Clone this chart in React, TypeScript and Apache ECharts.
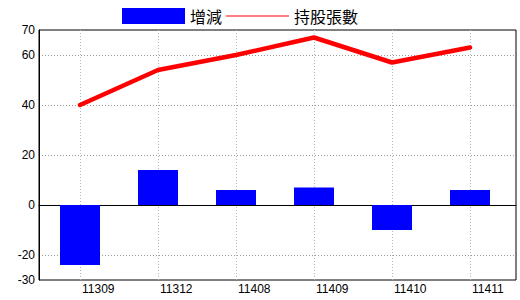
import React, { useEffect, useRef } from "react";
import * as echarts from "echarts";

const categories = ["11309", "11312", "11408", "11409", "11410", "11411"];
const changeValues = [-24, 14, 6, 7, -10, 6];
const holdingValues = [40, 54, 60, 67, 57, 63];
const yLabelValues = [-30, -20, 0, 20, 40, 60, 70];
const yGridValues = [-20, 20, 40, 60];
const seriesNames = ["增減", "持股張數"];

export default function App() {
  const ref = useRef<HTMLDivElement>(null);
  useEffect(() => {
    if (!ref.current) return;
    const chart = echarts.init(ref.current, null, { renderer: "svg" });
    const yMin = -30;
    const yMax = 70;
    const step = 10;
    const ticks: number[] = [];
    for (let v = yMin; v <= yMax; v += step) ticks.push(v);
    const splitColors = ticks.map((v) =>
      yGridValues.includes(v) ? "#999999" : "rgba(0,0,0,0)"
    );
    chart.setOption({
      animation: false,
      legend: {
        left: 122,
        top: 8,
        itemWidth: 63,
        itemHeight: 16,
        itemGap: 4,
        padding: 0,
        symbolKeepAspect: true,
        textStyle: {
          fontSize: 16,
          color: "#000",
          fontFamily: "Noto Sans CJK TC",
        },
        data: [
          { name: seriesNames[0], icon: "rect" },
          { name: seriesNames[1], icon: "path://M0,0H63V1H0Z", itemStyle: { color: "#ff0000" } },
        ],
      },
      grid: [
        {
          left: 39,
          top: 30,
          width: 477,
          height: 250,
          show: true,
          borderColor: "#000",
          borderWidth: 1,
          backgroundColor: "transparent",
          outerBoundsMode: "none",
          containLabel: false,
        },
        {
          left: 80,
          top: 30,
          width: 390,
          height: 250,
          outerBoundsMode: "none",
          containLabel: false,
        },
      ],
      xAxis: [
        {
          gridIndex: 0,
          type: "value",
          min: 0,
          max: 1,
          axisLine: { show: true, onZero: true, lineStyle: { color: "#000", width: 1 } },
          axisTick: { show: false },
          axisLabel: { show: false },
          splitLine: { show: false },
        },
        {
          gridIndex: 1,
          type: "category",
          data: categories,
          boundaryGap: false,
          axisLine: { show: false },
          axisTick: { show: false },
          axisLabel: {
            show: true,
            interval: 0,
            align: "left",
            padding: [0, 0, 0, 2],
            margin: 3,
            fontSize: 12,
            color: "#000",
            fontFamily: "Liberation Sans Narrow, Liberation Sans, Arial, sans-serif",
          },
          splitLine: {
            show: true,
            lineStyle: { color: "#9ebccc", type: [1, 2], width: 1 },
          },
        },
      ],
      yAxis: [
        {
          gridIndex: 0,
          type: "value",
          min: yMin,
          max: yMax,
          interval: step,
          axisLine: { show: true, lineStyle: { color: "#000" } },
          axisTick: { show: false },
          axisLabel: {
            show: true,
            margin: 4,
            fontSize: 12,
            color: "#000",
            fontFamily: "Liberation Sans, Arial, sans-serif",
            formatter: (v: number) =>
              yLabelValues.includes(Math.round(v)) ? String(Math.round(v)) : "",
          },
          splitLine: {
            show: true,
            lineStyle: { color: splitColors, type: [1, 2], width: 1 },
          },
        },
        {
          gridIndex: 1,
          type: "value",
          min: yMin,
          max: yMax,
          show: false,
          splitLine: { show: false },
        },
      ],
      series: [
        {
          name: seriesNames[0],
          type: "bar",
          xAxisIndex: 1,
          yAxisIndex: 1,
          data: changeValues,
          barWidth: 40,
          clip: false,
          itemStyle: { color: "#0000ff" },
          z: 3,
        },
        {
          name: seriesNames[1],
          type: "line",
          xAxisIndex: 1,
          yAxisIndex: 1,
          data: holdingValues,
          symbol: "none",
          showSymbol: false,
          lineStyle: { color: "#ff0000", width: 4.5, cap: "round", join: "round" },
          itemStyle: { color: "#ff0000" },
          z: 4,
        },
      ],
    });
    return () => chart.dispose();
  }, []);
  return <div ref={ref} style={{ width: 520, height: 300, position: "absolute", left: 0, top: 0 }} />;
}
